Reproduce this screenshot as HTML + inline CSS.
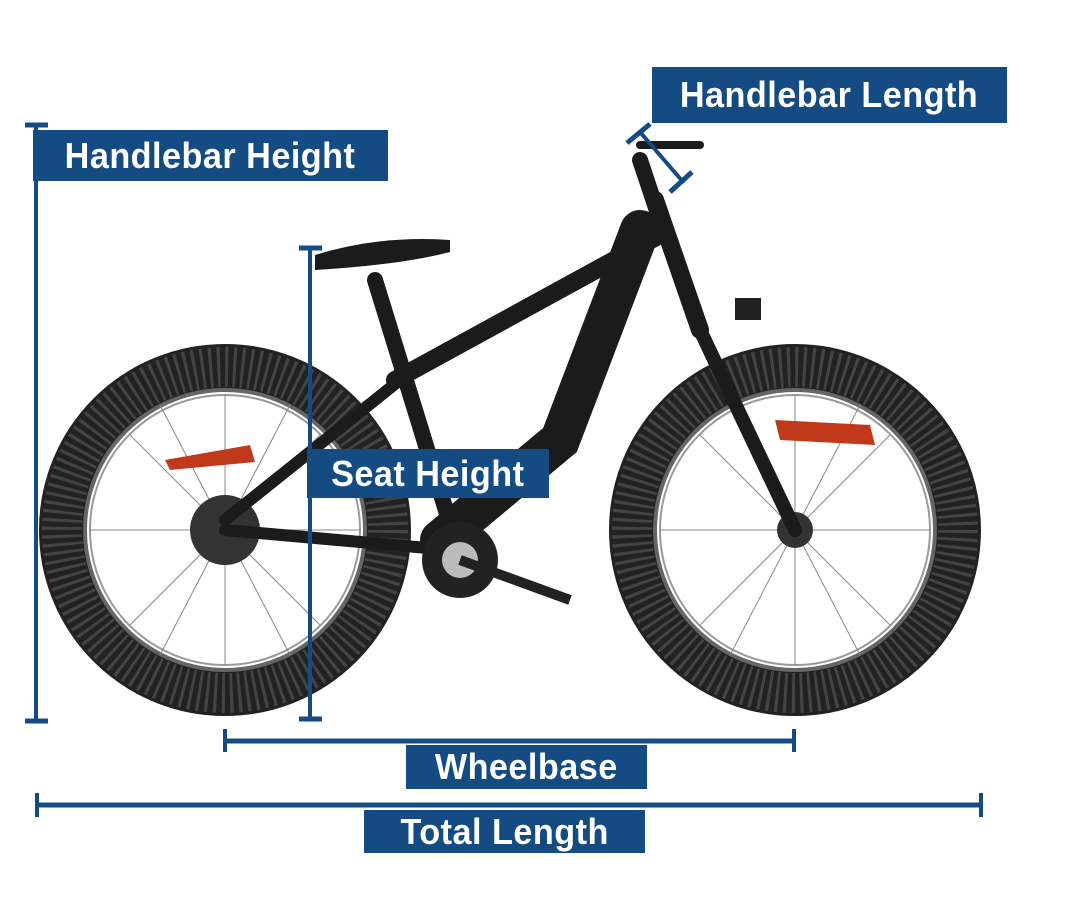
<!DOCTYPE html>
<html><head><style>
html,body{margin:0;padding:0;background:#fff;}
body{width:1082px;height:900px;position:relative;overflow:hidden;font-family:"Liberation Sans",sans-serif;}
.lb{position:absolute;background:#134b82;color:#fff;font-weight:bold;display:flex;align-items:center;justify-content:center;}
.lb span{display:inline-block;transform:scaleX(0.95);white-space:nowrap;letter-spacing:0.5px;}
</style></head><body>
<svg width="1082" height="900" style="position:absolute;left:0;top:0">
<g>
<circle cx="225" cy="530" r="163" fill="none" stroke="#222" stroke-width="46"/>
<circle cx="225" cy="530" r="163" fill="none" stroke="#444" stroke-width="40" stroke-dasharray="3 5"/>
<circle cx="225" cy="530" r="140" fill="none" stroke="#666" stroke-width="4"/>
<circle cx="225" cy="530" r="135" fill="none" stroke="#999" stroke-width="2"/>
<circle cx="795" cy="530" r="163" fill="none" stroke="#222" stroke-width="46"/>
<circle cx="795" cy="530" r="163" fill="none" stroke="#444" stroke-width="40" stroke-dasharray="3 5"/>
<circle cx="795" cy="530" r="140" fill="none" stroke="#666" stroke-width="4"/>
<circle cx="795" cy="530" r="135" fill="none" stroke="#999" stroke-width="2"/>
<g stroke="#888" stroke-width="1">
<line x1="225" y1="395" x2="225" y2="665"/><line x1="90" y1="530" x2="360" y2="530"/>
<line x1="130" y1="435" x2="320" y2="625"/><line x1="320" y1="435" x2="130" y2="625"/>
<line x1="160" y1="405" x2="290" y2="655"/><line x1="290" y1="405" x2="160" y2="655"/>
<line x1="795" y1="395" x2="795" y2="665"/><line x1="660" y1="530" x2="930" y2="530"/>
<line x1="700" y1="435" x2="890" y2="625"/><line x1="890" y1="435" x2="700" y2="625"/>
<line x1="730" y1="405" x2="860" y2="655"/><line x1="860" y1="405" x2="730" y2="655"/>
</g>
<path d="M165 460 L250 445 L255 462 L170 470Z" fill="#c0391b"/>
<path d="M775 420 L870 425 L875 445 L780 440Z" fill="#c0391b"/>
<circle cx="225" cy="530" r="35" fill="#333"/>
<circle cx="795" cy="530" r="18" fill="#333"/>
</g>
<g stroke="#1b1b1b" stroke-linecap="round" fill="none">
<path d="M440 540 L560 440 L640 230" stroke-width="40"/>
<line x1="395" y1="380" x2="660" y2="235" stroke-width="18"/>
<line x1="375" y1="280" x2="455" y2="540" stroke-width="16"/>
<line x1="225" y1="520" x2="400" y2="380" stroke-width="12"/>
<line x1="225" y1="530" x2="450" y2="550" stroke-width="12"/>
<line x1="655" y1="200" x2="700" y2="330" stroke-width="18"/>
<line x1="700" y1="330" x2="795" y2="530" stroke-width="14"/>
<line x1="640" y1="160" x2="660" y2="220" stroke-width="16"/>
<line x1="640" y1="145" x2="700" y2="145" stroke-width="8"/>
</g>
<path d="M315 255 Q380 235 450 240 L450 252 Q400 265 315 270Z" fill="#1b1b1b"/>
<circle cx="460" cy="560" r="38" fill="#222"/>
<circle cx="460" cy="560" r="18" fill="#bbb"/>
<line x1="460" y1="560" x2="570" y2="600" stroke="#222" stroke-width="10"/>
<rect x="735" y="298" width="26" height="22" fill="#222"/>
<g stroke="#134b82" stroke-width="4" fill="none">
<line x1="36" y1="125" x2="36" y2="722"/>
<line x1="25" y1="125" x2="48" y2="125" stroke-width="5"/>
<line x1="25" y1="721" x2="48" y2="721" stroke-width="5"/>
<line x1="310" y1="248" x2="310" y2="720"/>
<line x1="299" y1="248" x2="322" y2="248" stroke-width="5"/>
<line x1="299" y1="719" x2="322" y2="719" stroke-width="5"/>
<line x1="224" y1="741" x2="795" y2="741" stroke-width="5"/>
<line x1="225" y1="729" x2="225" y2="752"/>
<line x1="794" y1="729" x2="794" y2="752"/>
<line x1="36" y1="805" x2="982" y2="805" stroke-width="5"/>
<line x1="37" y1="793" x2="37" y2="817"/>
<line x1="981" y1="793" x2="981" y2="817"/>
<line x1="640" y1="132" x2="684" y2="183"/>
<line x1="627" y1="143" x2="650" y2="124" stroke-width="5"/>
<line x1="670" y1="192" x2="692" y2="172" stroke-width="5"/>
</g>
</svg>
<div class="lb" style="left:33px;top:130px;width:355px;height:51px;font-size:36px;"><span>Handlebar Height</span></div>
<div class="lb" style="left:652px;top:67px;width:355px;height:56px;font-size:36px;"><span>Handlebar Length</span></div>
<div class="lb" style="left:307px;top:449px;width:242px;height:49px;font-size:36px;"><span>Seat Height</span></div>
<div class="lb" style="left:406px;top:745px;width:241px;height:44px;font-size:36px;"><span>Wheelbase</span></div>
<div class="lb" style="left:364px;top:810px;width:281px;height:43px;font-size:36px;"><span>Total Length</span></div>
</body></html>
